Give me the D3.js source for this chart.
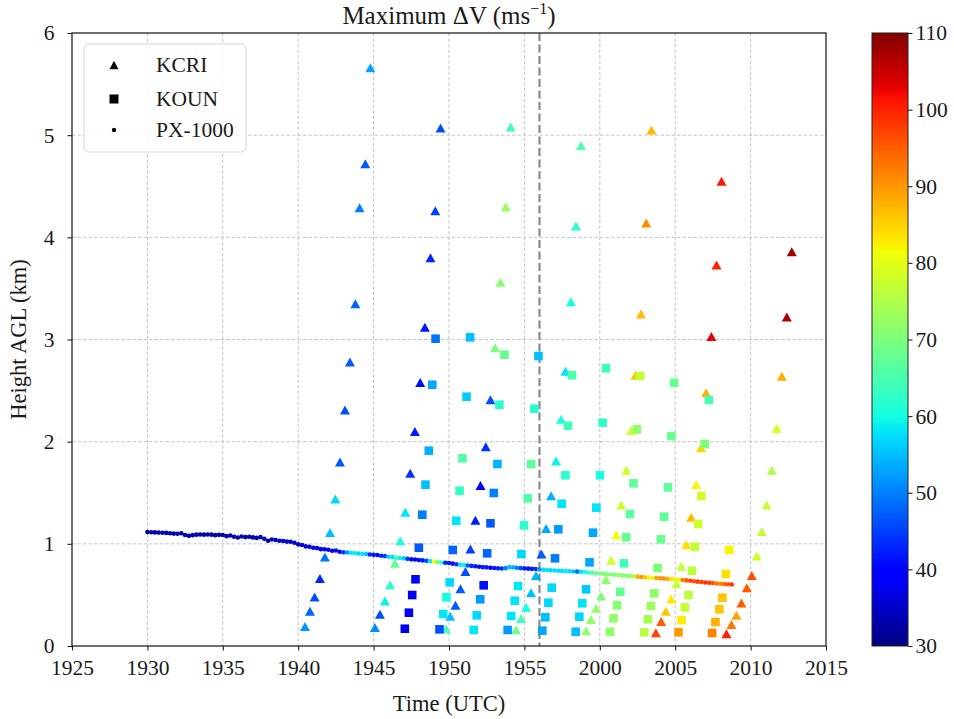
<!DOCTYPE html>
<html>
<head>
<meta charset="utf-8">
<script src="https://cdn.jsdelivr.net/npm/d3@7"></script>
<style>
  body { margin: 0; background: #fff; }
  text { font-family: "Liberation Serif", "Times New Roman", serif; fill: #1a1a1a; }
</style>
</head>
<body>
<svg id="chart" width="954" height="719"></svg>
<script>
// Time is in minutes after 19:00 UTC; height in km AGL; value is maximum delta-V (m/s).
const timeTicks = [25, 30, 35, 40, 45, 50, 55, 60, 65, 70, 75];
const timeTickLabels = ["1925", "1930", "1935", "1940", "1945", "1950", "1955", "2000", "2005", "2010", "2015"];
const heightTicks = [0, 1, 2, 3, 4, 5, 6];
const dvTicks = [30, 40, 50, 60, 70, 80, 90, 100, 110];
const markerTime = 56; // 19:56 reference line

// KCRI: [time, height, maxDV]
const kcri = [
  [40.45,0.19,52],[40.78,0.34,48],[41.09,0.48,46],[41.44,0.66,43],[41.77,0.87,49],[42.11,1.11,55],[42.46,1.44,57],
  [42.77,1.80,47],[43.10,2.31,46],[43.43,2.78,47],[43.79,3.35,48],[44.07,4.29,50],[44.45,4.72,47],[44.78,5.66,53],
  [45.09,0.18,51],[45.42,0.31,46],[45.75,0.44,59],[46.09,0.60,62],[46.41,0.81,68],[46.77,1.03,61],[47.10,1.31,58],
  [47.43,1.69,44],[47.74,2.10,42],[48.09,2.58,41],[48.40,3.12,42],[48.77,3.80,43],[49.09,4.26,45],[49.44,5.07,46],
  [49.79,0.17,64],[50.08,0.29,55],[50.43,0.40,47],[50.76,0.56,47],[51.09,0.73,46],[51.42,0.95,45],[51.75,1.23,42],
  [52.09,1.57,40],[52.44,1.95,44],[52.75,2.41,46],[53.06,2.92,70],[53.41,3.56,71],[53.76,4.30,73],[54.09,5.08,64],
  [54.44,0.16,69],[54.78,0.27,64],[55.11,0.38,60],[55.44,0.52,55],[55.77,0.69,54],[56.13,0.90,47],[56.44,1.15,53],
  [56.77,1.47,54],[57.10,1.81,59],[57.43,2.22,60],[57.72,2.69,58],[58.09,3.37,60],[58.42,4.11,62],[58.75,4.90,66],
  [59.09,0.15,72],[59.42,0.26,72],[59.75,0.37,72],[60.08,0.49,70],[60.41,0.65,72],[60.76,0.84,78],[61.09,1.09,81],
  [61.42,1.38,78],[61.75,1.72,78],[62.07,2.11,78],[62.37,2.65,86],[62.73,3.25,87],[63.08,4.14,91],[63.43,5.05,87],
  [63.72,0.13,97],[64.07,0.24,95],[64.38,0.34,86],[64.74,0.46,83],[65.07,0.61,77],[65.40,0.78,77],[65.73,0.99,84],
  [66.06,1.26,87],[66.39,1.58,82],[66.72,1.94,85],[67.05,2.48,88],[67.40,3.03,103],[67.74,3.73,100],[68.07,4.55,101],
  [68.40,0.12,100],[68.73,0.21,93],[69.06,0.30,89],[69.39,0.42,95],[69.75,0.57,95],[70.08,0.69,96],[70.41,0.88,78],
  [70.74,1.12,77],[71.07,1.38,77],[71.40,1.72,75],[71.73,2.13,79],[72.07,2.64,88],[72.40,3.22,107],[72.73,3.86,108]
];

// KOUN: [time, height, maxDV]
const koun = [
  [47.07,0.169,38],[47.34,0.326,38],[47.56,0.499,39],[47.78,0.653,40],[48.00,0.962,47],
  [48.23,1.285,50],[48.44,1.579,55],[48.66,1.912,54],[48.89,2.557,53],[49.11,3.008,49],
  [49.37,0.163,46],[49.62,0.313,58],[49.83,0.477,60],[50.05,0.623,57],[50.25,0.940,48],
  [50.48,1.226,58],[50.70,1.520,63],[50.89,1.837,66],[51.16,2.440,56],[51.40,3.021,55],
  [51.64,0.157,58],[51.84,0.300,57],[52.07,0.457,52],[52.30,0.594,41],[52.53,0.907,48],
  [52.75,1.201,47],[52.97,1.498,50],[53.21,1.781,54],[53.34,2.362,62],[53.68,2.851,68],
  [53.89,0.157,52],[54.12,0.294,58],[54.36,0.443,58],[54.58,0.587,58],[54.80,0.900,57],
  [54.98,1.181,62],[55.22,1.446,66],[55.44,1.781,67],[55.66,2.323,62],[55.93,2.838,55],
  [56.19,0.150,53],[56.39,0.281,55],[56.59,0.424,57],[56.81,0.571,57],[57.03,0.858,50],
  [57.25,1.142,52],[57.47,1.393,58],[57.72,1.671,62],[57.89,2.156,64],[58.16,2.650,65],
  [58.40,0.140,55],[58.64,0.287,57],[58.84,0.418,58],[59.09,0.555,56],[59.32,0.819,53],
  [59.55,1.109,53],[59.77,1.354,58],[60.01,1.671,60],[60.19,2.186,63],[60.41,2.718,64],
  [60.68,0.140,72],[60.91,0.271,72],[61.14,0.398,71],[61.36,0.531,68],[61.60,0.809,64],
  [61.75,1.064,68],[62.00,1.292,67],[62.24,1.592,67],[62.46,2.121,72],[62.68,2.643,77],
  [62.95,0.134,76],[63.19,0.261,74],[63.39,0.392,73],[63.61,0.516,72],[63.83,0.763,70],
  [64.05,1.044,68],[64.27,1.266,67],[64.52,1.553,67],[64.75,2.055,68],[64.93,2.577,68],
  [65.22,0.134,90],[65.42,0.254,83],[65.64,0.379,77],[65.88,0.499,76],[66.11,0.737,76],
  [66.30,0.972,77],[66.52,1.194,78],[66.74,1.468,78],[66.97,1.977,70],[67.23,2.408,65],
  [67.45,0.127,92],[67.67,0.235,88],[67.93,0.359,86],[68.13,0.473,86],[68.36,0.705,84],
  [68.58,0.940,82]
];

// PX-1000: [time, height, maxDV]
const px1000 = [
  [30.00,1.115,33],[30.25,1.113,33],[30.50,1.112,33],[30.75,1.110,33],[31.00,1.108,33],[31.25,1.107,33],
  [31.50,1.103,33],[31.75,1.100,34],[32.00,1.098,33],[32.25,1.104,33],[32.50,1.086,34],[32.75,1.078,33],
  [33.00,1.085,33],[33.25,1.090,34],[33.50,1.092,33],[33.75,1.090,33],[34.00,1.092,34],[34.25,1.090,33],
  [34.50,1.085,33],[34.75,1.088,34],[35.00,1.086,33],[35.25,1.075,33],[35.50,1.082,34],[35.75,1.070,33],
  [36.00,1.062,34],[36.25,1.072,34],[36.50,1.066,33],[36.75,1.070,34],[37.00,1.063,34],[37.25,1.058,33],
  [37.50,1.066,34],[37.75,1.050,34],[38.00,1.030,34],[38.25,1.042,35],[38.50,1.038,34],[38.75,1.030,35],
  [39.00,1.028,34],[39.25,1.022,35],[39.50,1.020,35],[39.75,1.010,35],[40.00,0.995,36],[40.25,0.988,36],
  [40.50,0.975,37],[40.75,0.972,36],[41.00,0.962,37],[41.25,0.958,38],[41.50,0.948,37],[41.75,0.947,38],
  [42.00,0.942,39],[42.25,0.933,40],[42.50,0.935,41],[42.75,0.922,40],[43.00,0.918,44],[43.25,0.915,52],
  [43.50,0.912,58],[43.75,0.908,59],[44.00,0.906,57],[44.25,0.902,58],[44.50,0.900,56],[44.75,0.895,43],
  [45.00,0.892,42],[45.25,0.890,41],[45.50,0.883,43],[45.75,0.880,45],[46.00,0.874,57],[46.25,0.872,58],
  [46.50,0.865,64],[46.75,0.862,59],[47.00,0.858,56],[47.25,0.853,44],[47.50,0.848,41],[47.75,0.846,40],
  [48.00,0.842,41],[48.25,0.838,42],[48.50,0.834,45],[48.75,0.830,58],[49.00,0.826,80],[49.25,0.822,70],
  [49.50,0.818,62],[49.75,0.815,43],[50.00,0.812,42],[50.25,0.806,41],[50.50,0.800,44],[50.75,0.796,58],
  [51.00,0.792,59],[51.25,0.788,47],[51.50,0.784,43],[51.75,0.780,42],[52.00,0.776,41],[52.25,0.772,43],
  [52.50,0.770,42],[52.75,0.766,40],[53.00,0.764,42],[53.25,0.760,43],[53.50,0.758,44],[53.75,0.762,50],
  [54.00,0.772,55],[54.25,0.770,54],[54.50,0.766,50],[54.75,0.762,46],[55.00,0.760,42],[55.25,0.757,41],
  [55.50,0.755,42],[55.75,0.753,44],[56.00,0.750,52],[56.25,0.746,57],[56.50,0.743,58],[56.75,0.741,57],
  [57.00,0.739,58],[57.25,0.737,57],[57.50,0.735,58],[57.75,0.733,59],[58.00,0.731,57],[58.25,0.729,55],
  [58.50,0.728,48],[58.75,0.726,58],[59.00,0.724,60],[59.25,0.720,62],[59.50,0.716,66],[59.75,0.712,68],
  [60.00,0.709,70],[60.25,0.706,69],[60.50,0.703,70],[60.75,0.700,71],[61.00,0.697,70],[61.25,0.694,72],
  [61.50,0.691,71],[61.75,0.688,70],[62.00,0.685,72],[62.25,0.682,74],[62.50,0.679,88],[62.75,0.676,90],
  [63.00,0.673,86],[63.25,0.670,82],[63.50,0.668,80],[63.75,0.665,89],[64.00,0.662,90],[64.25,0.660,91],
  [64.50,0.657,88],[64.75,0.655,84],[65.00,0.653,82],[65.25,0.650,80],[65.50,0.646,92],[65.75,0.642,95],
  [66.00,0.638,97],[66.25,0.634,96],[66.50,0.630,98],[66.75,0.626,97],[67.00,0.622,99],[67.25,0.619,98],
  [67.50,0.616,96],[67.75,0.612,93],[68.00,0.609,92],[68.25,0.606,94],[68.50,0.604,96],[68.75,0.602,98]
];

const legendEntries = ["KCRI", "KOUN", "PX-1000"];

// ---- jet colormap (piecewise linear channels) ----
const jetR = d3.scaleLinear().domain([0, 0.35, 0.66, 0.89, 1]).range([0, 0, 1, 1, 0.5]).clamp(true);
const jetG = d3.scaleLinear().domain([0, 0.125, 0.375, 0.64, 0.91, 1]).range([0, 0, 1, 1, 0, 0]).clamp(true);
const jetB = d3.scaleLinear().domain([0, 0.11, 0.34, 0.65, 1]).range([0.5, 1, 1, 0, 0]).clamp(true);
const jet = t => d3.rgb(jetR(t) * 255, jetG(t) * 255, jetB(t) * 255).formatHex();
const norm = d3.scaleLinear().domain([30, 110]).range([0, 1]).clamp(true);
const colorOf = v => jet(norm(v));

// ---- layout ----
const svg = d3.select("#chart");
const plotL = 72, plotR = 826, plotT = 33, plotB = 646;
const x = d3.scaleLinear().domain([25, 75]).range([plotL, plotR]);
const y = d3.scaleLinear().domain([0, 6]).range([plotB, plotT]);

// grid
const grid = svg.append("g");
grid.selectAll("line.gx").data(timeTicks.slice(1, -1)).join("line")
  .attr("x1", d => x(d)).attr("x2", d => x(d)).attr("y1", plotT).attr("y2", plotB)
  .attr("stroke", "#c4c4c4").attr("stroke-width", 1).attr("stroke-dasharray", "3.5,2");
grid.selectAll("line.gy").data(heightTicks.slice(1, -1)).join("line")
  .attr("x1", plotL).attr("x2", plotR).attr("y1", d => y(d)).attr("y2", d => y(d))
  .attr("stroke", "#c4c4c4").attr("stroke-width", 1).attr("stroke-dasharray", "3.5,2");

// 19:56 reference line
svg.append("line")
  .attr("x1", x(markerTime)).attr("x2", x(markerTime)).attr("y1", plotT).attr("y2", plotB)
  .attr("stroke", "#8a8a8a").attr("stroke-width", 2.2).attr("stroke-dasharray", "8,3.5");

// markers
const tri = (w, h) => `M0,${-h / 2}L${w / 2},${h / 2}L${-w / 2},${h / 2}Z`;
const sq = s => `M${-s / 2},${-s / 2}h${s}v${s}h${-s}Z`;

svg.append("g").selectAll("path").data(kcri).join("path")
  .attr("d", tri(10, 9))
  .attr("transform", d => `translate(${x(d[0])},${y(d[1])})`)
  .attr("fill", d => colorOf(d[2]));

svg.append("g").selectAll("path").data(koun).join("path")
  .attr("d", sq(8.6))
  .attr("transform", d => `translate(${x(d[0])},${y(d[1])})`)
  .attr("fill", d => colorOf(d[2]));

svg.append("g").selectAll("circle").data(px1000).join("circle")
  .attr("cx", d => x(d[0])).attr("cy", d => y(d[1])).attr("r", 2.3)
  .attr("fill", d => colorOf(d[2]));

// axes frame
svg.append("rect").attr("x", plotL).attr("y", plotT).attr("width", plotR - plotL).attr("height", plotB - plotT)
  .attr("fill", "none").attr("stroke", "#222").attr("stroke-width", 1.3);

// x axis
const xAxis = d3.axisBottom(x).tickValues(timeTicks).tickFormat((d, i) => timeTickLabels[i])
  .tickSizeInner(4.5).tickSizeOuter(0).tickPadding(9);
const gx = svg.append("g").attr("transform", `translate(0,${plotB})`).call(xAxis);
gx.select(".domain").remove();
gx.selectAll(".tick line").attr("stroke", "#222").attr("stroke-width", 1.1);
gx.selectAll(".tick text").attr("font-size", 21.5).attr("font-family", "Liberation Serif, serif").attr("fill", "#1a1a1a");

// y axis
const yAxis = d3.axisLeft(y).tickValues(heightTicks).tickFormat(d3.format("d"))
  .tickSizeInner(4.5).tickSizeOuter(0).tickPadding(13);
const gy = svg.append("g").attr("transform", `translate(${plotL},0)`).call(yAxis);
gy.select(".domain").remove();
gy.selectAll(".tick line").attr("stroke", "#222").attr("stroke-width", 1.1);
gy.selectAll(".tick text").attr("font-size", 21.5).attr("font-family", "Liberation Serif, serif").attr("fill", "#1a1a1a");

// axis titles
svg.append("text").attr("x", (plotL + plotR) / 2).attr("y", 711).attr("text-anchor", "middle")
  .attr("font-size", 22.5).text("Time (UTC)");
svg.append("text").attr("transform", `translate(26,${(plotT + plotB) / 2}) rotate(-90)`)
  .attr("text-anchor", "middle").attr("font-size", 22.5).text("Height AGL (km)");

// title
const title = svg.append("text").attr("x", (plotL + plotR) / 2).attr("y", 24).attr("text-anchor", "middle")
  .attr("font-size", 25);
title.append("tspan").text("Maximum ΔV (ms");
title.append("tspan").attr("font-size", 16).attr("dy", -10).text("−1");
title.append("tspan").attr("dy", 10).text(")");

// legend
const lg = svg.append("g");
lg.append("rect").attr("x", 84).attr("y", 44).attr("width", 162).attr("height", 108).attr("rx", 5)
  .attr("fill", "#fff").attr("fill-opacity", 0.85).attr("stroke", "#d4d4d4").attr("stroke-width", 1);
const legendRows = [65, 99, 130];
lg.append("path").attr("d", tri(9, 8.5)).attr("transform", `translate(114,${legendRows[0]})`).attr("fill", "#000");
lg.append("path").attr("d", sq(9)).attr("transform", `translate(114,${legendRows[1]})`).attr("fill", "#000");
lg.append("circle").attr("cx", 114).attr("cy", legendRows[2]).attr("r", 2.2).attr("fill", "#000");
lg.selectAll("text").data(legendEntries).join("text")
  .attr("x", 156).attr("y", (d, i) => legendRows[i] + 7).attr("font-size", 21.5).text(d => d);

// colorbar
const cbX = 872, cbW = 36;
const cbScale = d3.scaleLinear().domain([30, 110]).range([plotB, plotT]);
const defs = svg.append("defs");
const grad = defs.append("linearGradient").attr("id", "jetGrad")
  .attr("x1", 0).attr("y1", 1).attr("x2", 0).attr("y2", 0);
const stops = [0, 0.11, 0.125, 0.34, 0.35, 0.375, 0.64, 0.65, 0.66, 0.89, 0.91, 1];
grad.selectAll("stop").data(stops).join("stop")
  .attr("offset", d => d).attr("stop-color", d => jet(d));
svg.append("rect").attr("x", cbX).attr("y", plotT).attr("width", cbW).attr("height", plotB - plotT)
  .attr("fill", "url(#jetGrad)").attr("stroke", "#222").attr("stroke-width", 1);
const cAxis = d3.axisRight(cbScale).tickValues(dvTicks).tickFormat(d3.format("d"))
  .tickSizeInner(4.5).tickSizeOuter(0).tickPadding(3);
const gc = svg.append("g").attr("transform", `translate(${cbX + cbW},0)`).call(cAxis);
gc.select(".domain").remove();
gc.selectAll(".tick line").attr("stroke", "#222").attr("stroke-width", 1.1);
gc.selectAll(".tick text").attr("font-size", 21.5).attr("font-family", "Liberation Serif, serif").attr("fill", "#1a1a1a");
</script>
</body>
</html>
